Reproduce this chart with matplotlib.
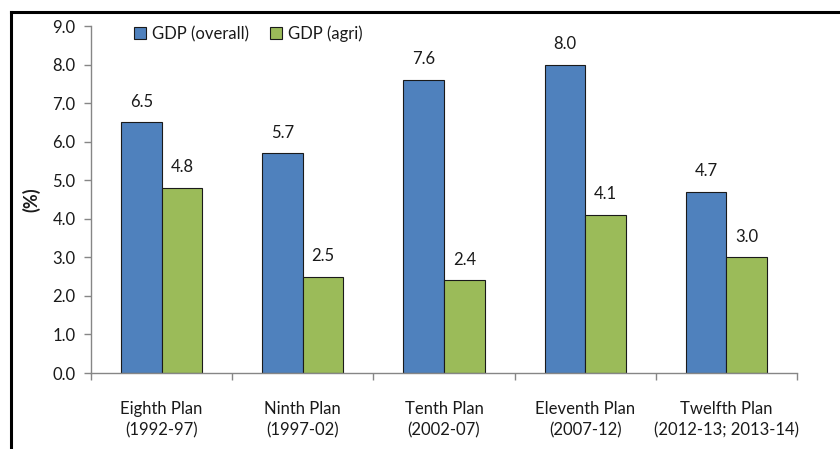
import numpy as np
import matplotlib
matplotlib.use("Agg")
import matplotlib.pyplot as plt
from matplotlib.lines import Line2D

# data
plans = ["Eighth Plan\n(1992-97)", "Ninth Plan\n(1997-02)", "Tenth Plan\n(2002-07)",
         "Eleventh Plan\n(2007-12)", "Twelfth Plan\n(2012-13; 2013-14)"]
gdp_overall = [6.5, 5.7, 7.6, 8.0, 4.7]
gdp_agri = [4.8, 2.5, 2.4, 4.1, 3.0]
series_names = ["GDP (overall)", "GDP (agri)"]

plt.rcParams['font.family'] = ['Lato', 'DejaVu Sans']

fig = plt.figure(figsize=(8.4, 4.49), dpi=100)
ax = fig.add_axes([91/840, 76/449, 706/840, 347/449])

x = np.arange(len(plans))
w = 0.287
gray = "#868686"
txt = "#1a1a1a"
b1 = ax.bar(x - w/2, gdp_overall, w, color="#4F81BD", edgecolor=txt, linewidth=0.8,
            label=series_names[0], zorder=2)
b2 = ax.bar(x + w/2, gdp_agri, w, color="#9BBB59", edgecolor=txt, linewidth=0.8,
            label=series_names[1], zorder=2)

for bars in (b1, b2):
    for r in bars:
        ax.annotate("%.1f" % r.get_height(), (r.get_x() + r.get_width()/2, r.get_height()),
                    xytext=(0, 9), textcoords="offset points", ha="center", va="bottom",
                    fontsize=12, color=txt)

ax.set_xlim(-0.5, len(plans) - 0.5)
ax.set_ylim(0, 9)
ax.set_yticks(np.arange(0, 9.5, 1.0))
ax.set_yticklabels(["%.1f" % v for v in np.arange(0, 9.5, 1.0)])

# category boundaries as major ticks, labels on minor ticks
ax.set_xticks(np.arange(-0.5, len(plans), 1.0))
ax.set_xticklabels([])
ax.set_xticks(x, minor=True)
ax.set_xticklabels(plans, minor=True, linespacing=1.45)
ax.tick_params(axis="x", which="minor", length=0, pad=20, labelsize=12, labelcolor=txt)
ax.tick_params(axis="x", which="major", length=5, color=gray, width=1)
ax.tick_params(axis="y", length=5, color=gray, width=1, labelsize=12, labelcolor=txt, pad=6)

for s in ("top", "right"):
    ax.spines[s].set_visible(False)
for s in ("left", "bottom"):
    ax.spines[s].set_color(gray)
    ax.spines[s].set_linewidth(1)

ax.set_ylabel("(%)", fontsize=13, fontweight="bold", labelpad=9, color=txt)

leg = ax.legend(loc="upper left", bbox_to_anchor=(0.04, 1.045), ncol=2, frameon=False,
                fontsize=12, handlelength=0.7, handleheight=0.7, handletextpad=0.35,
                columnspacing=1.3)
for t in leg.get_texts():
    t.set_color(txt)

# outer frame lines (top and left only visible)
fig.add_artist(Line2D([11/840, 1.0], [1 - 12/449, 1 - 12/449], color="black", lw=2.2,
                      transform=fig.transFigure))
fig.add_artist(Line2D([11/840, 11/840], [0, 1 - 12/449], color="black", lw=2.2,
                      transform=fig.transFigure))

fig.savefig("out.png", dpi=100)
